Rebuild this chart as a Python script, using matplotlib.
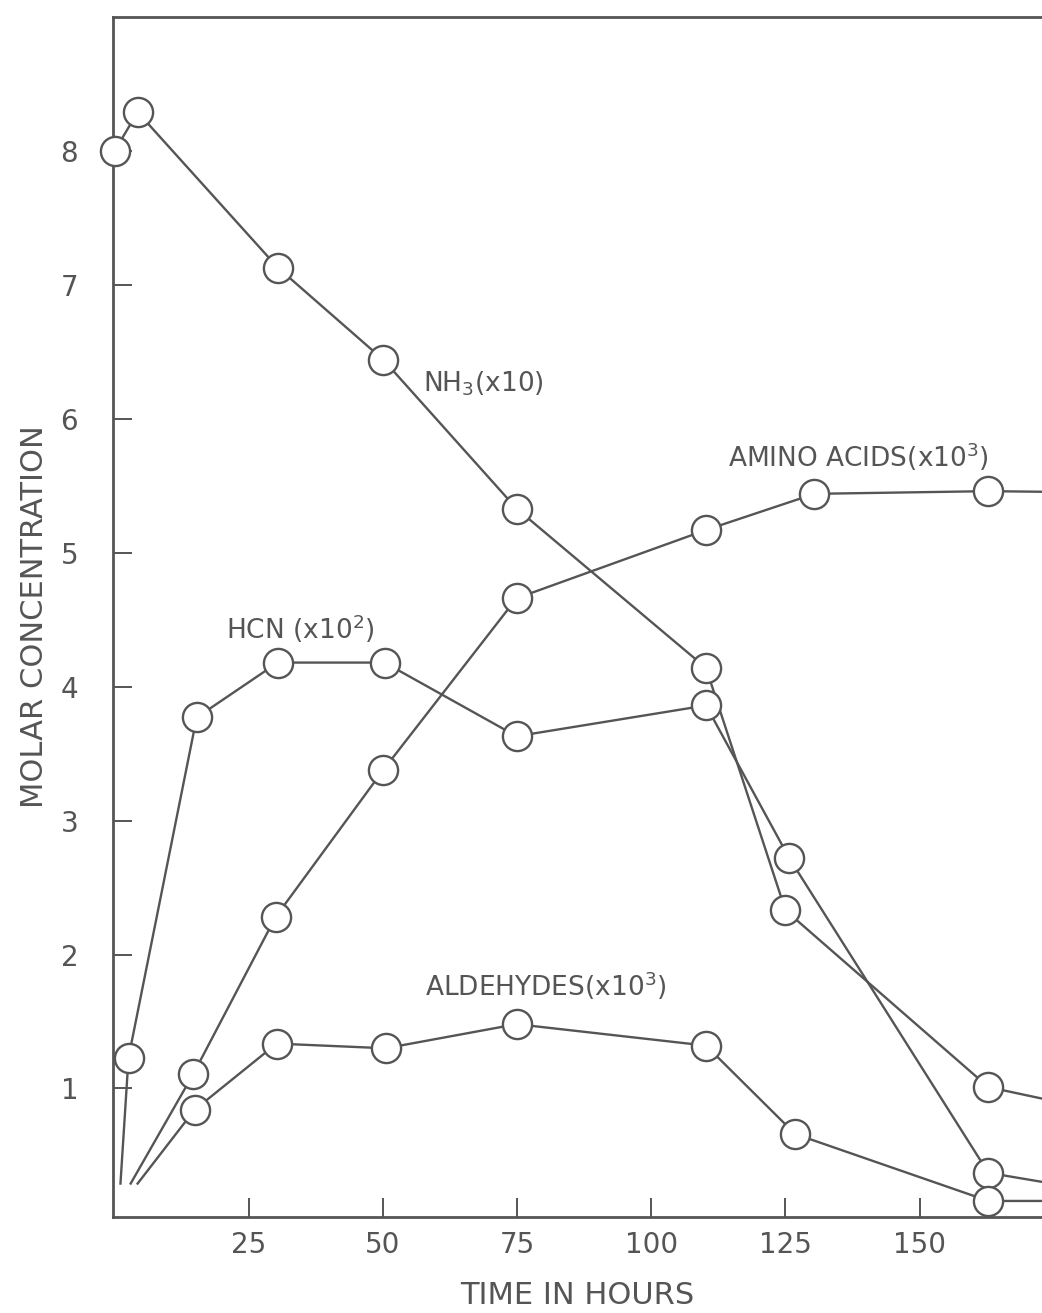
import matplotlib
matplotlib.use('Agg')
import matplotlib.pyplot as plt

# values (hours, molar concentration in scaled units)
nh3_t = [0, 4.3, 30.4, 50.1, 74.9, 110.2, 125.0, 162.8, 185]
nh3_v = [8.0, 8.29, 7.13, 6.44, 5.33, 4.14, 2.33, 1.01, 0.82]

hcn_t = [1.1, 2.6, 15.3, 30.4, 50.3, 74.9, 110.2, 125.7, 162.8, 185]
hcn_v = [0.29, 1.23, 3.77, 4.18, 4.18, 3.63, 3.86, 2.72, 0.37, 0.22]

amino_t = [3.0, 14.7, 30.0, 50.1, 74.9, 110.2, 130.4, 162.8, 185]
amino_v = [0.29, 1.11, 2.28, 3.38, 4.66, 5.17, 5.44, 5.46, 5.45]

ald_t = [4.3, 14.9, 30.2, 50.5, 74.9, 110.2, 126.8, 162.8, 185]
ald_v = [0.29, 0.84, 1.335, 1.30, 1.48, 1.32, 0.66, 0.16, 0.16]

# which points carry a circle (first/last are only line ends)
series = [
    (nh3_t, nh3_v, slice(0, -1)),
    (hcn_t, hcn_v, slice(1, -1)),
    (amino_t, amino_v, slice(1, -1)),
    (ald_t, ald_v, slice(1, -1)),
]

labels = [
    (57.5, 6.26, 'NH$_3$(x10)'),
    (114.3, 5.72, 'AMINO ACIDS(x10$^3$)'),
    (20.7, 4.43, 'HCN (x10$^2$)'),
    (57.9, 1.77, 'ALDEHYDES(x10$^3$)'),
]

xticks = [25, 50, 75, 100, 125, 150]
yticks = [1, 2, 3, 4, 5, 6, 7, 8]

ink = '#555555'

fig = plt.figure(figsize=(10.42, 13.13), dpi=100)
ax = fig.add_axes([0.1084, 0.0731, 0.8916, 0.9139])

for t, v, m in series:
    ax.plot(t, v, '-', color=ink, lw=1.7, zorder=2)
for t, v, m in series:
    ax.plot(t[m], v[m], 'o', ms=21, mfc='white', mec=ink, mew=1.7,
            zorder=3, clip_on=False)

for x, y, s in labels:
    ax.text(x, y, s, fontsize=19, color=ink, va='center', ha='left')

ax.set_xlim(-0.3, 172.8)
ax.set_ylim(0.04, 9.0)
ax.set_xticks(xticks)
ax.set_yticks(yticks)
ax.tick_params(direction='in', length=14, width=1.4, color=ink,
               labelcolor=ink, labelsize=20)
ax.tick_params(axis='x', pad=10)
ax.tick_params(axis='y', pad=25)
ax.spines['right'].set_visible(False)
for s in ['left', 'top', 'bottom']:
    ax.spines[s].set_color(ink)
    ax.spines[s].set_linewidth(2.0)

ax.set_xlabel('TIME IN HOURS', fontsize=22, color=ink, labelpad=16)
ax.set_ylabel('MOLAR CONCENTRATION', fontsize=22, color=ink, labelpad=8)

fig.savefig('out.png', dpi=100)
